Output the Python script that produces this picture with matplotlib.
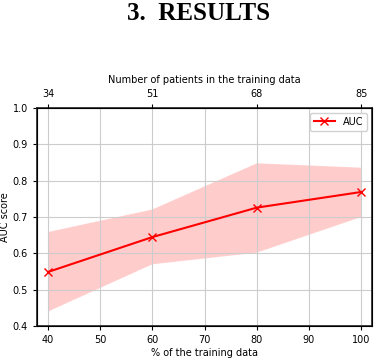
"""
AUC score vs size of the training data, with a shaded spread band.
"""

import matplotlib

matplotlib.use("Agg")
import matplotlib.pyplot as plt

# Data
pct_train = [40, 60, 80, 100]
auc_mean = [0.549, 0.645, 0.726, 0.769]
auc_low = [0.440, 0.570, 0.602, 0.700]
auc_high = [0.659, 0.721, 0.848, 0.836]
n_patients = ["34", "51", "68", "85"]

fig = plt.figure(figsize=(3.74, 3.6), dpi=100)
ax = fig.add_axes([0.099, 0.094, 0.896, 0.606])

# Shaded band and mean line
ax.fill_between(pct_train, auc_low, auc_high, color="red", alpha=0.2,
                edgecolor="white", linestyle="--", linewidth=0.8)
ax.plot(pct_train, auc_mean, color="red", marker="x", markersize=6,
        linewidth=1.5, label="AUC")

ax.set_xlim(37.9, 102.1)
ax.set_ylim(0.4, 1.0)
ax.set_xticks([40, 50, 60, 70, 80, 90, 100])
ax.set_yticks([0.4, 0.5, 0.6, 0.7, 0.8, 0.9, 1.0])
ax.tick_params(labelsize=7, length=3)
ax.grid(True, color="#cccccc", linewidth=0.8)
ax.set_xlabel("% of the training data", fontsize=7, labelpad=2)
ax.set_ylabel("AUC score", fontsize=7, labelpad=2)
ax.legend(loc="upper right", fontsize=7, handlelength=2.2,
          borderpad=0.4, framealpha=0.9)
for sp in ax.spines.values():
    sp.set_linewidth(1.2)
    sp.set_color("#222222")

# Top axis: number of patients
top = ax.twiny()
top.set_xlim(ax.get_xlim())
top.set_xticks(pct_train)
top.set_xticklabels(n_patients)
top.tick_params(labelsize=7, length=3)
top.set_xlabel("Number of patients in the training data", fontsize=7,
               labelpad=4)

# Section heading from the page
fig.text(0.531, 0.995, "3.  RESULTS", ha="center", va="top",
         fontsize=18, fontweight="bold", family="Liberation Serif")

fig.savefig("out.png", dpi=100)
